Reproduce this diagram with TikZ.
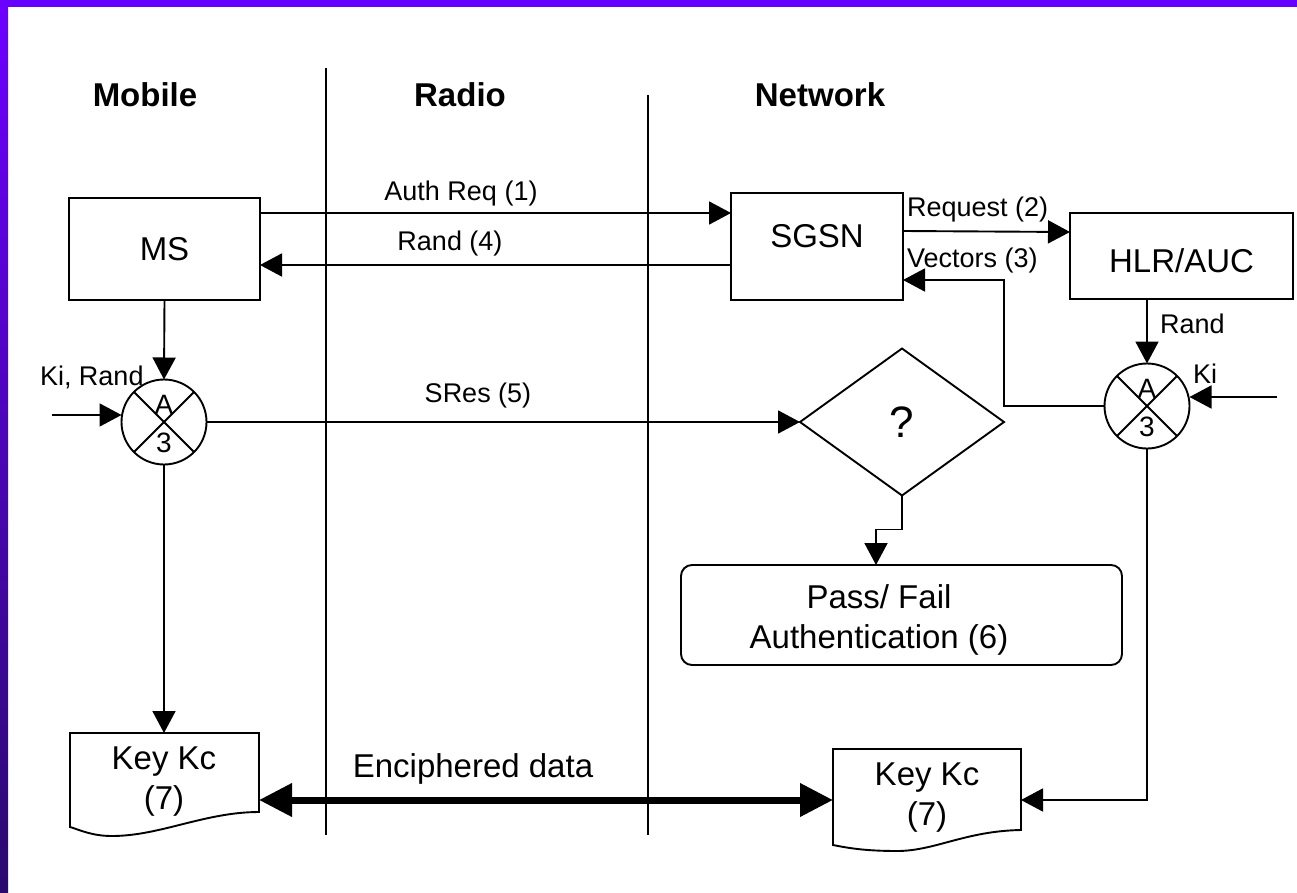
\documentclass[tikz,border=0pt]{standalone}
\usepackage{fontspec}
\setmainfont{Liberation Sans}
\usetikzlibrary{arrows.meta,shapes.geometric,calc}
\definecolor{framevio}{HTML}{6600FF}
\definecolor{frametop}{HTML}{6C00FF}
\definecolor{framedark}{HTML}{2A0A6E}

\begin{document}
\begin{tikzpicture}[x=1pt,y=-1pt,
  every node/.style={inner sep=0pt, outer sep=0pt},
  thinline/.style={line width=1.9pt},
  arr/.style={thinline, -{Triangle[length=22pt,width=23pt]}},
  bigarr/.style={line width=7pt, {Triangle[length=33pt,width=32pt]}-{Triangle[length=33pt,width=32pt]}},
  bigfont/.style={font=\fontsize{33}{40}\selectfont},
  head/.style={font=\fontsize{33}{36}\selectfont\bfseries, anchor=base},
  lbl/.style={font=\fontsize{27}{30}\selectfont, anchor=base},
  lblw/.style={font=\fontsize{27}{30}\selectfont, anchor=base west},
  blockbox/.style={draw, thinline, rectangle},
  cipher/.style={draw, thinline, circle, minimum size=85pt},
  cipherletter/.style={font=\fontsize{28}{30}\selectfont},
]
\useasboundingbox (0,0) rectangle (1297,893);

% frame
\fill[white] (0,0) rectangle (1297,893);
\fill[framevio] (0,0) rectangle (1297,7);
\shade[top color=frametop, bottom color=framedark] (0,0) rectangle (8,893);

% column headings
\node[head] (hmob) at (145,107) {Mobile};
\node[head] (hrad) at (460,107) {Radio};
\node[head] (hnet) at (820,107) {Network};

% column separators
\coordinate (s1t) at (326,68);
\coordinate (s1b) at (326,835);
\coordinate (s2t) at (648,95);
\coordinate (s2b) at (648,835);
\draw[thinline] (s1t) -- (s1b);
\draw[thinline] (s2t) -- (s2b);

% blocks
\node[blockbox, minimum width=191pt, minimum height=102pt, bigfont] (ms) at (164.5,249) {MS};
\node[blockbox, minimum width=172pt, minimum height=107pt,
      label={[bigfont, yshift=10.5pt]center:SGSN}] (sgsn) at (817,246.5) {};
\node[blockbox, minimum width=223pt, minimum height=86pt,
      label={[bigfont, yshift=-5pt]center:HLR/AUC}] (hlr) at (1181.5,256) {};

% A3 ciphers
\node[cipher] (a3l) at (164,422) {};
\draw[thinline] (a3l.north west) -- (a3l.south east);
\draw[thinline] (a3l.north east) -- (a3l.south west);
\node[cipherletter] (a3lA) at (164,405) {A};
\node[cipherletter] (a3l3) at (164,443) {3};

\node[cipher] (a3r) at (1147,406) {};
\draw[thinline] (a3r.north west) -- (a3r.south east);
\draw[thinline] (a3r.north east) -- (a3r.south west);
\node[cipherletter] (a3rA) at (1147,389) {A};
\node[cipherletter] (a3r3) at (1147,427) {3};

% comparison
\node[draw, thinline, diamond, minimum width=204pt, minimum height=147pt,
      font=\fontsize{44}{48}\selectfont] (dia) at (902,422) {?};

% result box
\node[draw, thinline, rectangle, rounded corners=11pt, minimum width=441pt, minimum height=100pt] (pf) at (901.5,615) {};
\node[bigfont, align=center] (pft) at (879,620) {Pass/ Fail\\Authentication (6)};

% key documents
\draw[thinline] (70,733) -- (259,733) -- (259,812)
  .. controls (205,812) and (160,836) .. (112,836)
  .. controls (92,836) and (80,830) .. (70,827) -- cycle;
\node[bigfont, align=center] (kcl) at (164,781.5) {Key Kc\\(7)};
\draw[thinline] (833,749) -- (1021,749) -- (1021,830)
  .. controls (965,831) and (935,851) .. (897,851)
  .. controls (865,851) and (848,848) .. (833,845) -- cycle;
\node[bigfont, align=center] (kcr) at (927,798) {Key Kc\\(7)};
\coordinate (kclin) at (164,733);
\coordinate (kclside) at (259,800);
\coordinate (kcrside) at (833,800);
\coordinate (kcrin) at (1021,800);

% message flow
\draw[arr] ([yshift=36pt]ms.east) -- ([yshift=33.5pt]sgsn.west);
\node[lbl] (lauth) at (461,201) {Auth Req (1)};
\draw[arr] ([yshift=-18.5pt]sgsn.west) -- ([yshift=-16pt]ms.east);
\node[lbl] (lrand4) at (450,251) {Rand (4)};
\draw[arr] ([yshift=15.5pt]sgsn.east) -- ([yshift=24pt]hlr.west);
\node[lblw] (lreq) at (907,217) {Request (2)};
\coordinate (vup) at (1004,280);
\draw[arr] (a3r.west) -| (vup) -- ([yshift=-33.5pt]sgsn.east);
\node[lblw] (lvec) at (907,267) {Vectors (3)};

\draw[arr] (a3r.north |- hlr.south) -- (a3r.north);
\node[lblw] (lrandr) at (1160,333) {Rand};
\coordinate (kiin) at (1277,397);
\draw[arr] (kiin) -- (a3r.east |- kiin);
\node[lblw] (lki) at (1193,383) {Ki};

\draw[arr] (ms.south) -- (a3l.north);
\coordinate (kirin) at (52,415);
\draw[arr] (kirin) -- (a3l.west |- kirin);
\node[lblw] (lkir) at (40,385) {Ki, Rand};

\draw[arr] (a3l.east) -- (dia.west);
\node[lbl] (lsres) at (478,402) {SRes (5)};

\coordinate (pfin) at (876,565);
\draw[arr] (dia.south) -- ++(0,34) -| (pfin);

\draw[arr] (a3l.south) -- (kclin);
\draw[arr] (a3r.south) |- (kcrin);

\draw[bigarr] (kclside) -- (kcrside);
\node[font=\fontsize{33}{36}\selectfont, anchor=base] (lenc) at (473,777) {Enciphered data};
\end{tikzpicture}
\end{document}
